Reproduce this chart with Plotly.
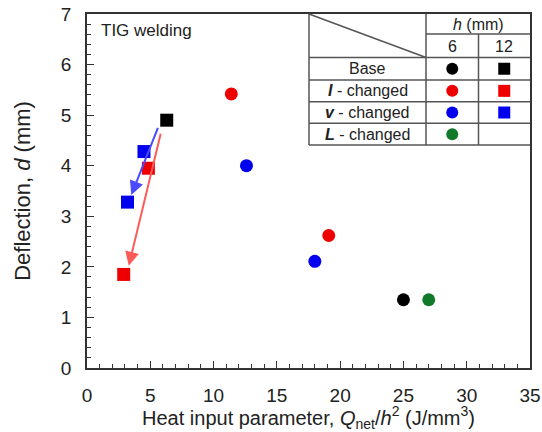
import plotly.graph_objects as go

# ---------------- data ----------------
base6_x = [25.0]
base6_y = [1.35]
base12_x = [6.3]
base12_y = [4.9]
I6_x = [11.4, 19.1]
I6_y = [5.42, 2.62]
I12_x = [4.85, 2.9]
I12_y = [3.95, 1.85]
v6_x = [12.6, 18.0]
v6_y = [4.0, 2.11]
v12_x = [4.5, 3.2]
v12_y = [4.28, 3.28]
L6_x = [27.0]
L6_y = [1.35]

# trend arrows (start -> end) in data units
blue_arrow = dict(x0=5.65, y0=4.78, x1=3.5, y1=3.42)
red_arrow = dict(x0=5.85, y0=4.66, x1=3.3, y1=2.02)

row_labels = ["Base", "<b><i>I</i></b> - changed", "<b><i>v</i></b> - changed", "<b><i>L</i></b> - changed"]
col_labels = ["6", "12"]
row_colors = ["#000000", "#ee0000", "#0000ee", "#117a2a"]
row_has_12 = [True, True, True, False]

x_ticks = [0, 5, 10, 15, 20, 25, 30, 35]
y_ticks = [0, 1, 2, 3, 4, 5, 6, 7]

# ---------------- figure ----------------
W, H = 542, 432
ML, MR, MT, MB = 87, 12, 14, 64
PW, PH = W - ML - MR, H - MT - MB
FONT = "Liberation Sans, Arial, sans-serif"
TXT = "#222222"

def px(x):
    return (x - ML) / PW

def py(y):
    return (H - MB - y) / PH

fig = go.Figure()

def add(xs, ys, color, symbol):
    fig.add_trace(go.Scatter(x=xs, y=ys, mode="markers",
                             marker=dict(color=color, symbol=symbol, size=13,
                                         line=dict(width=0)),
                             showlegend=False, hoverinfo="skip"))

add(base6_x, base6_y, row_colors[0], "circle")
add(base12_x, base12_y, row_colors[0], "square")
add(I6_x, I6_y, row_colors[1], "circle")
add(I12_x, I12_y, row_colors[1], "square")
add(v6_x, v6_y, row_colors[2], "circle")
add(v12_x, v12_y, row_colors[2], "square")
add(L6_x, L6_y, row_colors[3], "circle")

annotations = []
for arr, col in [(blue_arrow, "#4a4aff"), (red_arrow, "#ff5a5a")]:
    annotations.append(dict(x=arr["x1"], y=arr["y1"], ax=arr["x0"], ay=arr["y0"],
                            xref="x", yref="y", axref="x", ayref="y",
                            showarrow=True, arrowhead=2, arrowsize=1.4,
                            arrowwidth=2, arrowcolor=col, text=""))

def label(x, y, text, size=16, xanchor="center"):
    annotations.append(dict(x=px(x), y=py(y), xref="paper", yref="paper",
                            text=text, showarrow=False, xanchor=xanchor,
                            yanchor="middle",
                            font=dict(family=FONT, size=size, color=TXT)))

# TIG welding label
label(99, 31, "TIG welding", size=17, xanchor="left")

# ---------------- legend table ----------------
tL, tC1, tC2, tR = 309, 426, 478.5, W - MR
rows_y = [14, 34, 57.5, 80, 101.7, 123.3, 145]
LC = "#555555"
LW = 1.5
shapes = []

def line(x0, y0, x1, y1, w=LW):
    shapes.append(dict(type="line", xref="paper", yref="paper",
                       x0=px(x0), y0=py(y0), x1=px(x1), y1=py(y1),
                       line=dict(color=LC, width=w)))

shapes.append(dict(type="rect", xref="paper", yref="paper",
                   x0=px(tL), y0=py(rows_y[-1]), x1=px(tR), y1=py(rows_y[0]),
                   fillcolor="white", line=dict(width=0), layer="below"))
line(tL, rows_y[0], tL, rows_y[-1])
line(tC1, rows_y[0], tC1, rows_y[-1])
line(tC2, rows_y[1], tC2, rows_y[-1])
line(tC1, rows_y[1], tR, rows_y[1])
for yy in rows_y[2:]:
    line(tL, yy, tR, yy)
line(tL, rows_y[0], tC1, rows_y[2])

label((tC1 + tR) / 2, (rows_y[0] + rows_y[1]) / 2 + 1, "<i>h</i> (mm)")
for cx, lab in zip([(tC1 + tC2) / 2, (tC2 + tR) / 2], col_labels):
    label(cx, (rows_y[1] + rows_y[2]) / 2 + 1, lab)

for i, (lab, col, has12) in enumerate(zip(row_labels, row_colors, row_has_12)):
    cy = (rows_y[i + 2] + rows_y[i + 3]) / 2
    label((tL + tC1) / 2, cy, lab)
    shapes.append(dict(type="circle", xref="paper", yref="paper",
                       xsizemode="pixel", ysizemode="pixel",
                       xanchor=px((tC1 + tC2) / 2), yanchor=py(cy),
                       x0=-6, x1=6, y0=-6, y1=6, fillcolor=col, line=dict(width=0)))
    if has12:
        shapes.append(dict(type="rect", xref="paper", yref="paper",
                           xsizemode="pixel", ysizemode="pixel",
                           xanchor=px((tC2 + tR) / 2), yanchor=py(cy),
                           x0=-6, x1=6, y0=-6, y1=6, fillcolor=col, line=dict(width=0)))

axis_common = dict(showline=True, linecolor="#333333", linewidth=1.5, mirror=True,
                   ticks="inside", ticklen=7, tickwidth=1, tickcolor="#333333",
                   showgrid=False, zeroline=False, automargin=False,
                   tickfont=dict(family=FONT, size=19, color=TXT))

fig.update_layout(
    width=W, height=H,
    margin=dict(l=ML, r=MR, t=MT, b=MB),
    paper_bgcolor="white", plot_bgcolor="white",
    showlegend=False,
    xaxis=dict(range=[0, 35], tickvals=x_ticks, ticklabelstandoff=9,
               minor=dict(dtick=1, ticks="inside", ticklen=4, tickcolor="#333333"),
               title=dict(text="Heat input parameter, <i>Q</i><sub>net</sub>/<i>h</i><sup>2</sup> (J/mm<sup>3</sup>)",
                          font=dict(family=FONT, size=20, color=TXT), standoff=9),
               **axis_common),
    yaxis=dict(range=[0, 7], tickvals=y_ticks, ticklabelstandoff=10,
               minor=dict(dtick=0.2, ticks="inside", ticklen=4, tickcolor="#333333"),
               title=dict(text="Deflection, <i>d</i> (mm)",
                          font=dict(family=FONT, size=22, color=TXT), standoff=24),
               **axis_common),
    shapes=shapes,
    annotations=annotations,
)

fig.write_html("out.html", config={"displayModeBar": False},
               post_script="document.body.style.margin='0';")
